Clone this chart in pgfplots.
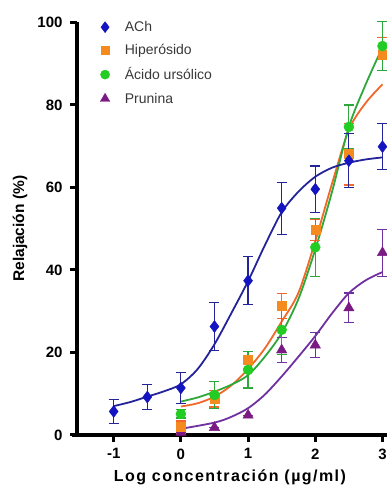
\documentclass[border=0pt]{standalone}
\usepackage{pgfplots}
\pgfplotsset{compat=1.18}
\usepackage{fontspec}
\setmainfont{Liberation Sans}
\definecolor{achM}{HTML}{1414C0}
\definecolor{achL}{HTML}{24249A}
\definecolor{hipM}{HTML}{F58A1F}
\definecolor{hipL}{HTML}{F2682A}
\definecolor{aciM}{HTML}{22CC22}
\definecolor{aciL}{HTML}{2EA83A}
\definecolor{pruM}{HTML}{7A1A82}
\definecolor{pruL}{HTML}{7030A0}
\begin{document}
\begin{tikzpicture}
\useasboundingbox (-77pt,-52pt) rectangle (309pt,435pt);
\begin{axis}[
  at={(0,0)}, anchor=south west,
  scale only axis, width=309.5pt, height=412.5pt,
  xmin=-1.546, xmax=3.06, ymin=0, ymax=100,
  axis lines=left, axis line style={-, line width=3.5pt, black},
  x axis line style={shorten <=-5pt},
  xtick={-1,0,1,2,3}, ytick={0,20,40,60,80,100},
  major tick length=7pt, tick align=outside,
  tick style={line width=3pt, black},
  /pgf/number format/assume math mode=true,
  ticklabel style={font=\bfseries\fontsize{15}{15}\selectfont},
  xticklabel style={yshift=-3pt},
  yticklabel style={xshift=-4pt},
  xlabel={\addfontfeatures{LetterSpace=9}Log concentración (µg/ml)},
  ylabel={Relajación (\%)},
  xlabel style={font=\bfseries\fontsize{16}{16}\selectfont,
    at={(axis description cs:0.494,-0.102)}, anchor=center},
  ylabel style={font=\bfseries\fontsize{15.5}{15.5}\selectfont,
    at={(axis description cs:-0.184,0.5)}, anchor=center},
  clip=false,
  legend style={draw=none, fill=none, at={(0.065,1.013)}, anchor=north west,
    font=\fontsize{14}{14}\selectfont, text=black!78, row sep=7.5pt,
    /tikz/every odd column/.style={column sep=13pt}},
  legend cell align=left,
]
\addlegendimage{only marks, mark=diamond*, mark size=5.5pt, color=achM}
\addlegendentry{ACh}
\addlegendimage{only marks, mark=square*, mark size=4.2pt, color=hipM}
\addlegendentry{Hiperósido}
\addlegendimage{only marks, mark=*, mark size=4.6pt, color=aciM}
\addlegendentry{Ácido ursólico}
\addlegendimage{only marks, mark=triangle*, mark size=5.5pt, color=pruM}
\addlegendentry{Prunina}

% fitted curves
\addplot[forget plot, smooth, line width=1.8pt, color=pruL] coordinates {
(0,1.5) (0.5,3.0) (0.75,4.4) (1,6.5) (1.25,9.8) (1.5,14.2) (1.75,19.0) (2,24.0) (2.25,29.5) (2.5,34.4) (2.75,37.5) (3,39.5)};
\addplot[forget plot, smooth, line width=1.8pt, color=hipL] coordinates {
(0,6.9) (0.25,7.7) (0.5,9.3) (0.75,12) (1,16) (1.25,21) (1.5,27.5) (1.75,34.5) (2,47) (2.25,61) (2.5,74) (2.75,80.5) (3,85)};
\addplot[forget plot, smooth, line width=1.8pt, color=aciL] coordinates {
(0,8.1) (0.25,9.1) (0.5,10.5) (0.75,12.2) (1,14.5) (1.25,19) (1.5,24.7) (1.75,33) (2,45) (2.25,59) (2.5,74.7) (2.75,85) (3,94)};
\addplot[forget plot, smooth, line width=1.8pt, color=achL] coordinates {
(-1,7.0) (-0.75,8.0) (-0.5,9.3) (-0.25,10.6) (0,12.3) (0.25,16) (0.5,22) (0.75,29.5) (1,37.3) (1.25,46) (1.5,54) (1.75,59) (2,62.6) (2.25,64.8) (2.5,66) (2.75,66.8) (3,67.3)};

% data points
\addplot[forget plot, only marks, mark=triangle*, mark size=6pt, color=pruM,
  error bars/.cd, y dir=both, y explicit,
  error bar style={line width=1.2pt, color=pruL},
  error mark options={rotate=90, mark size=5pt, line width=1.2pt, color=pruL}]
  table[y error=e] {
x y e
0 0.6 0
0.5 1.8 0
1 4.8 0
1.5 20.6 3
2 21.8 3
2.5 30.8 3.6
3 44.2 5.7
};
\addplot[forget plot, only marks, mark=square*, mark size=4.5pt, color=hipM,
  error bars/.cd, y dir=both, y explicit,
  error bar style={line width=1.2pt, color=hipL},
  error mark options={rotate=90, mark size=5pt, line width=1.2pt, color=hipL}]
  table[y error=e] {
x y e
0 1.9 1.5
0.5 8.8 2
1 18.2 2
1.5 31.3 3
2 49.7 2.5
2.5 68.1 7.5
3 92.3 4
};
\addplot[forget plot, only marks, mark=*, mark size=5pt, color=aciM,
  error bars/.cd, y dir=both, y explicit,
  error bar style={line width=1.2pt, color=aciL},
  error mark options={rotate=90, mark size=5pt, line width=1.2pt, color=aciL}]
  table[y error=e] {
x y e
0 5.1 1
0.5 9.7 3.2
1 15.8 4.4
1.5 25.5 6
2 45.5 7
2.5 74.7 5.3
3 94.3 6
};
\addplot[forget plot, only marks, mark=diamond*, mark size=6pt, color=achM,
  error bars/.cd, y dir=both, y explicit,
  error bar style={line width=1.2pt, color=achL},
  error mark options={rotate=90, mark size=5pt, line width=1.2pt, color=achL}]
  table[y error=e] {
x y e
-1 5.7 2.9
-0.5 9.2 3
0 11.4 3.7
0.5 26.3 5.8
1 37.4 5.8
1.5 55 6.3
2 59.6 5.6
2.5 66.5 6.5
3 69.9 5.6
};
\end{axis}
\end{tikzpicture}
\end{document}
